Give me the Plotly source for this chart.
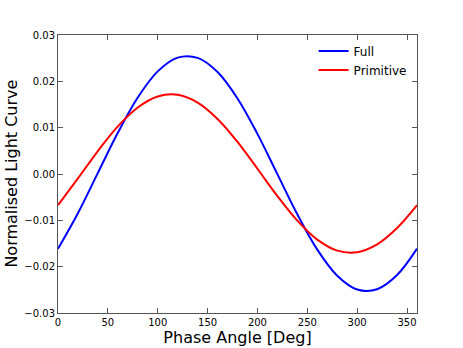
"""Light curve: full vs primitive model"""
import plotly.graph_objects as go

# phase angle samples in degrees
phase_deg = [0, 20, 40, 60, 80, 100, 120, 140, 160, 180,
             200, 220, 240, 260, 280, 300, 320, 340, 360]

# normalised light curve
full_curve = [-0.01611, -0.00846, 0.00023, 0.00890, 0.01652, 0.02215, 0.02512,
              0.02507, 0.02201, 0.01631, 0.00866, -0.00003, -0.00870, -0.01632,
              -0.02195, -0.02492, -0.02487, -0.02181, -0.01611]
primitive_curve = [-0.00672, -0.00094, 0.00496, 0.01027, 0.01436, 0.01673, 0.01709,
                   0.01540, 0.01187, 0.00692, 0.00114, -0.00476, -0.01007, -0.01416,
                   -0.01653, -0.01689, -0.01520, -0.01167, -0.00672]

x_ticks = [0, 50, 100, 150, 200, 250, 300, 350]
y_ticks = [-0.03, -0.02, -0.01, 0.00, 0.01, 0.02, 0.03]

FONT = "DejaVu Sans"
AXIS_COLOR = "#555555"

fig = go.Figure()
fig.add_trace(go.Scatter(x=phase_deg, y=full_curve, name="Full", mode="lines",
                         line=dict(color="#0000ff", width=2, shape="spline")))
fig.add_trace(go.Scatter(x=phase_deg, y=primitive_curve, name="Primitive", mode="lines",
                         line=dict(color="#ff0000", width=2, shape="spline")))

axis_common = dict(
    showgrid=False, zeroline=False, automargin=False,
    showline=True, linecolor=AXIS_COLOR, linewidth=1, mirror="ticks",
    ticks="inside", ticklen=5, tickcolor=AXIS_COLOR, tickwidth=1,
    tickfont=dict(family=FONT, size=10, color="black"),
)

fig.update_xaxes(range=[0, 360], tickvals=x_ticks,
                 title=dict(text="Phase Angle [Deg]", font=dict(family=FONT, size=16, color="black"),
                            standoff=4),
                 **axis_common)
fig.update_yaxes(range=[-0.03, 0.03], tickvals=y_ticks, tickformat=".2f", **axis_common)

# y title as an annotation so it can sit closer to the page edge
fig.add_annotation(text="Normalised Light Curve", xref="paper", yref="paper",
                   x=-0.132, y=0.5, xanchor="center", yanchor="middle",
                   textangle=-90, showarrow=False,
                   font=dict(family=FONT, size=16, color="black"))

fig.update_layout(
    width=463, height=348,
    margin=dict(l=58, r=46, t=35, b=35),
    paper_bgcolor="white", plot_bgcolor="white",
    font=dict(family=FONT, color="black"),
    legend=dict(x=0.712, y=0.995, xanchor="left", yanchor="top",
                bgcolor="rgba(0,0,0,0)", borderwidth=0,
                font=dict(family=FONT, size=12, color="black"),
                tracegroupgap=0),
    showlegend=True,
)

# drop the browser's default 8px body margin so the figure fills the window
fig.write_html("out.html", config={"displayModeBar": False},
               post_script="document.body.style.margin = '0px';")
